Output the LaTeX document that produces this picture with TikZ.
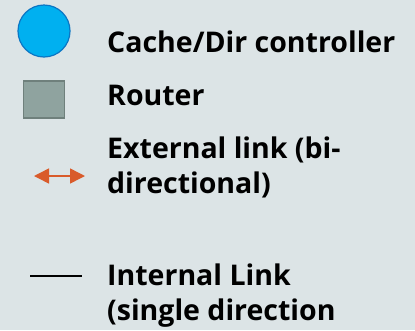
\documentclass[tikz,border=0pt]{standalone}
\usepackage{fontspec}
\setmainfont{Open Sans}
\usetikzlibrary{arrows.meta}
\definecolor{bgcol}{HTML}{DCE4E6}
\definecolor{ctrlfill}{HTML}{00B0F0}
\definecolor{ctrlline}{HTML}{0B76C4}
\definecolor{routerfill}{HTML}{8FA39F}
\definecolor{routerline}{HTML}{6F807C}
\definecolor{extcol}{HTML}{D95B2B}
\tikzset{
  label text/.style={anchor=base west, inner sep=0pt, font=\fontsize{28.5}{35}\selectfont\bfseries, align=left},
}
\begin{document}
\begin{tikzpicture}[x=1pt,y=-1pt]
  \fill[bgcol] (0,0) rectangle (415,330);
  \useasboundingbox (0,0) rectangle (415,330);
  % symbols
  \node[circle, draw=ctrlline, line width=1.2pt, fill=ctrlfill, minimum size=52pt, inner sep=0pt] (ctrl) at (44,31) {};
  \node[rectangle, draw=routerline, line width=1.2pt, fill=routerfill, minimum width=41pt, minimum height=37pt, inner sep=0pt] (router) at (44,99.5) {};
  \coordinate (extA) at (34,176);
  \coordinate (extB) at (85,176);
  \draw[extcol, line width=1.5pt, {Triangle[length=15pt,width=15pt]}-{Triangle[length=15pt,width=15pt]}] (extA) -- (extB);
  \coordinate (intA) at (30,276);
  \coordinate (intB) at (82,276);
  \draw[black, line width=2pt] (intA) -- (intB);
  % labels
  \node[label text] (tctrl) at (107,52) {Cache/Dir controller};
  \node[label text] (trouter) at (107,105) {Router};
  \node[label text] (text1) at (107,158) {External link (bi-};
  \node[label text] (text2) at (107,193) {directional)};
  \node[label text] (tint1) at (107,285) {Internal Link};
  \node[label text] (tint2) at (107,320) {(single direction};
\end{tikzpicture}
\end{document}
